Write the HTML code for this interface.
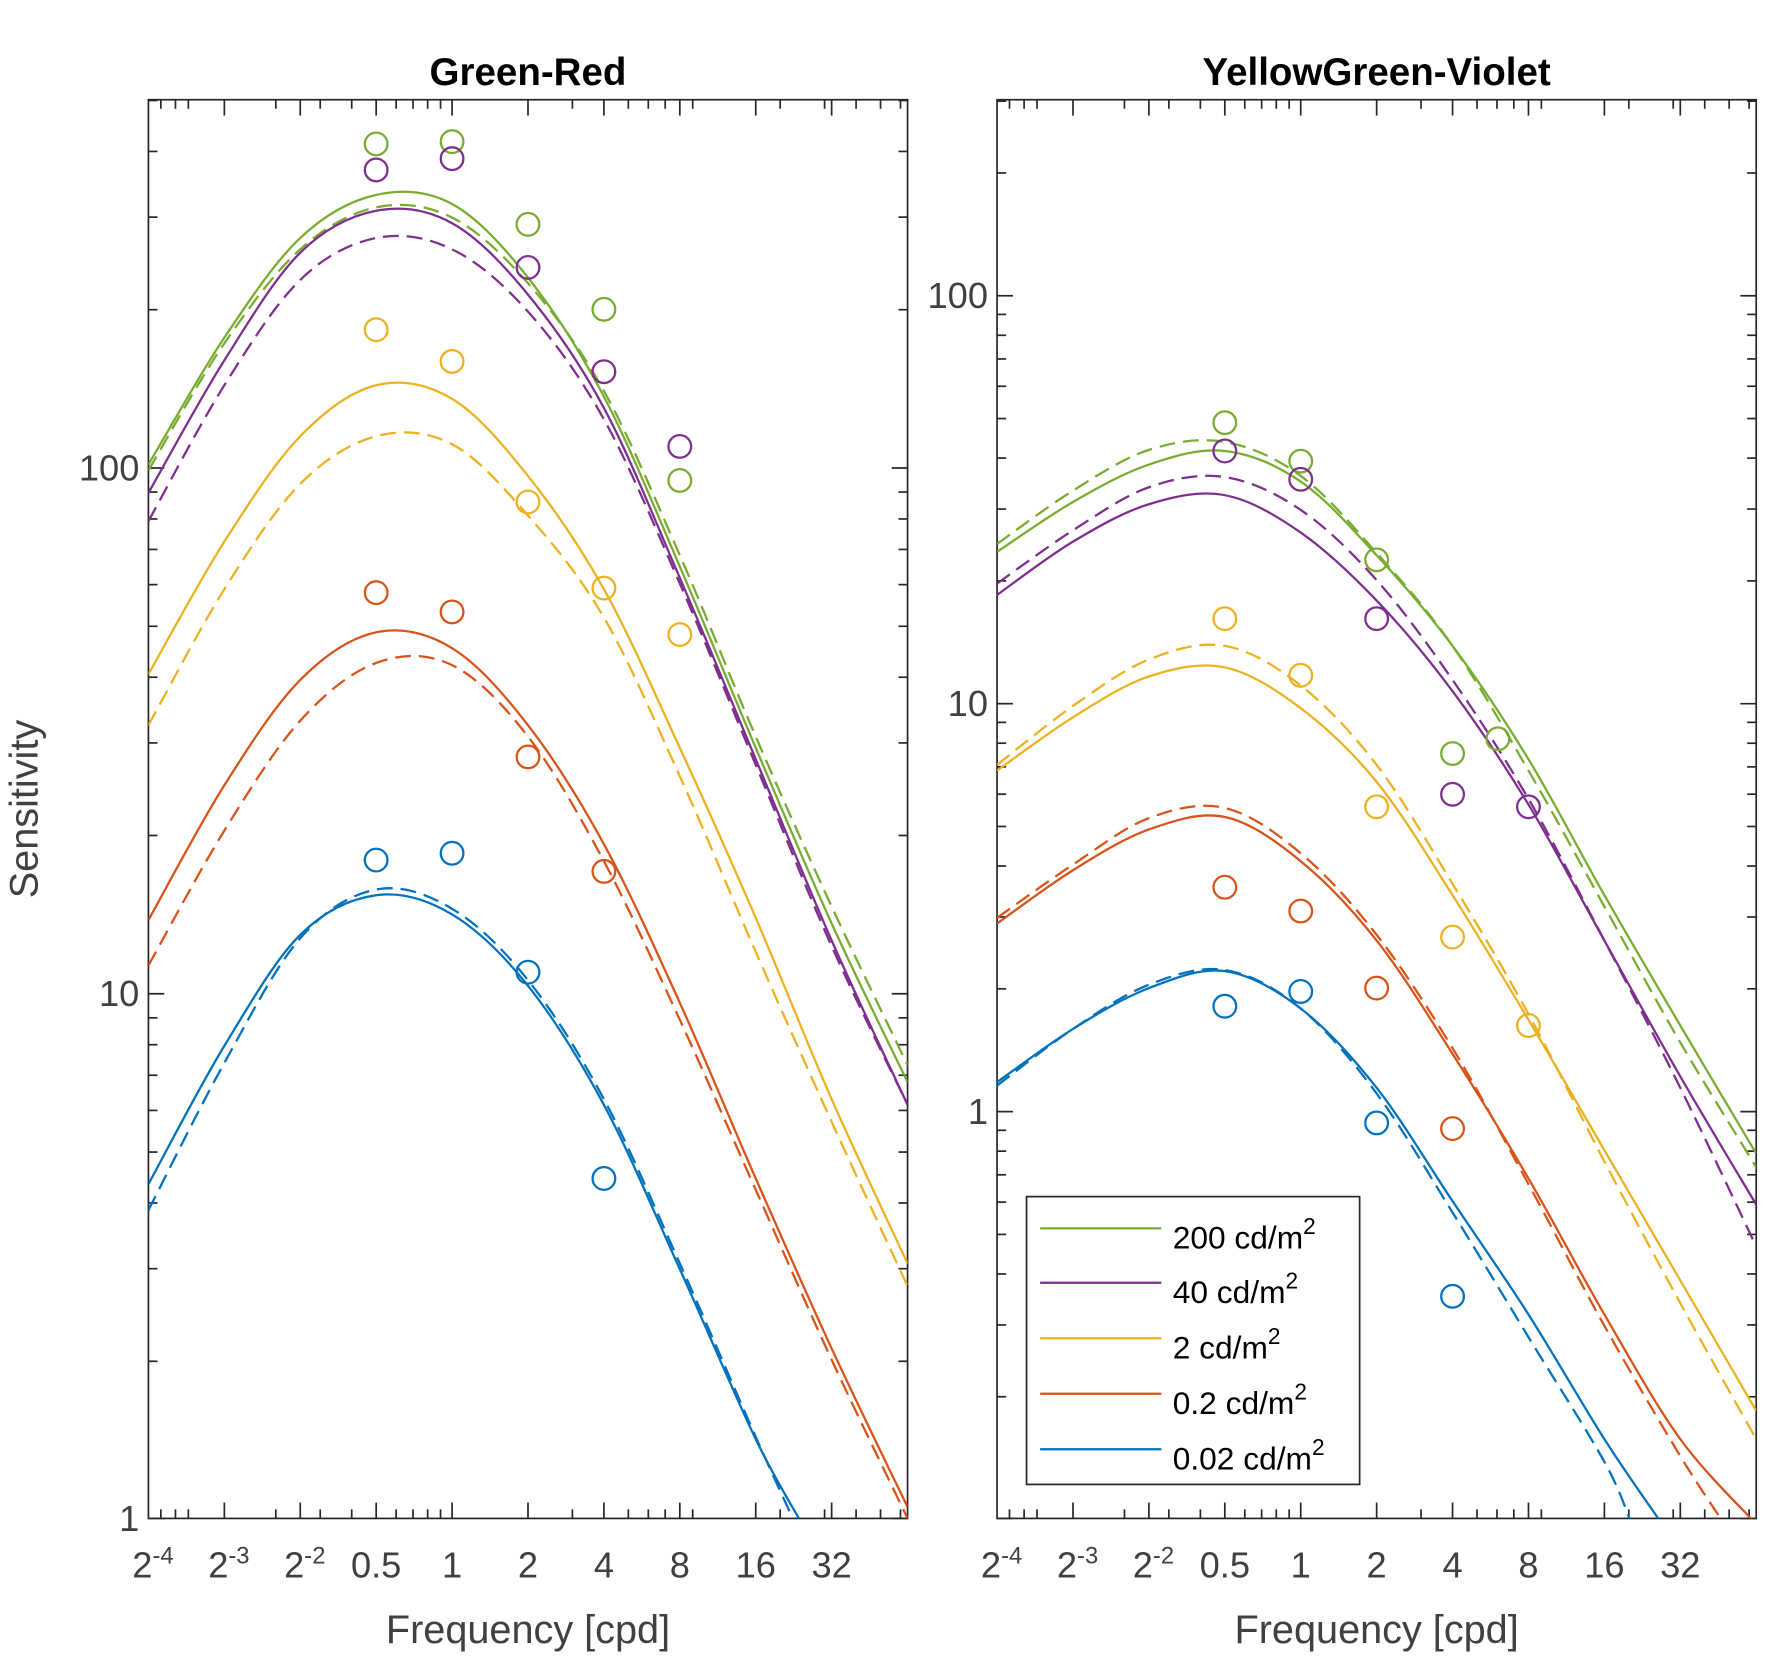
<!DOCTYPE html>
<html><head><meta charset="utf-8"><style>
html,body{margin:0;padding:0;background:#fff}
svg{display:block}
text{font-family:"Liberation Sans",sans-serif}
</style></head><body>
<svg id="s" width="1780" height="1668" viewBox="0 0 1571 1472" preserveAspectRatio="none" xmlns="http://www.w3.org/2000/svg">
<defs>
<clipPath id="cl"><rect x="131" y="88" width="670" height="1252"/></clipPath>
<clipPath id="cr"><rect x="880" y="88" width="670" height="1252"/></clipPath>
</defs>
<rect width="1571" height="1472" fill="#fff"/>
<g id="g"></g>
<text x="466" y="75" text-anchor="middle" font-size="34" font-weight="bold" fill="#000">Green-Red</text>
<text x="1215" y="75" text-anchor="middle" font-size="34" font-weight="bold" fill="#000">YellowGreen-Violet</text>
<text x="466" y="1450" text-anchor="middle" font-size="35" fill="#404040">Frequency [cpd]</text>
<text x="1215" y="1450" text-anchor="middle" font-size="35" fill="#404040">Frequency [cpd]</text>
<text transform="translate(33,714) rotate(-90)" text-anchor="middle" font-size="35" fill="#404040">Sensitivity</text>
<g font-size="28" fill="#000">
<rect x="906" y="1056" width="294" height="254" fill="#fff" stroke="#262626" stroke-width="1.5"/>
<line x1="918" x2="1025" y1="1084" y2="1084" stroke="#77AC30" stroke-width="2"/>
<line x1="918" x2="1025" y1="1132" y2="1132" stroke="#7E2F8E" stroke-width="2"/>
<line x1="918" x2="1025" y1="1181" y2="1181" stroke="#EDB120" stroke-width="2"/>
<line x1="918" x2="1025" y1="1230" y2="1230" stroke="#D95319" stroke-width="2"/>
<line x1="918" x2="1025" y1="1279" y2="1279" stroke="#0072BD" stroke-width="2"/>
<text x="1035" y="1102">200 cd/m<tspan font-size="20" dy="-13">2</tspan></text>
<text x="1035" y="1150">40 cd/m<tspan font-size="20" dy="-13">2</tspan></text>
<text x="1035" y="1199">2 cd/m<tspan font-size="20" dy="-13">2</tspan></text>
<text x="1035" y="1248">0.2 cd/m<tspan font-size="20" dy="-13">2</tspan></text>
<text x="1035" y="1297">0.02 cd/m<tspan font-size="20" dy="-13">2</tspan></text>
</g>
</svg>
<script>
var NS="http://www.w3.org/2000/svg",G=document.getElementById('g');
function el(t,a,p){var e=document.createElementNS(NS,t);for(var k in a)e.setAttribute(k,a[k]);(p||G).appendChild(e);return e;}
function txt(x,y,s,anc,fs){var e=el('text',{x:x,y:y,'text-anchor':anc||'middle','font-size':fs||30,fill:'#404040'});e.innerHTML=s;return e;}
var C={g:'#77AC30',p:'#7E2F8E',y:'#EDB120',r:'#D95319',b:'#0072BD'};
function smooth(pts){var d='M'+pts[0][0]+','+pts[0][1];for(var i=0;i<pts.length-1;i++){var p0=pts[i-1]||pts[i],p1=pts[i],p2=pts[i+1],p3=pts[i+2]||p2;
d+=' C'+(p1[0]+(p2[0]-p0[0])/6)+','+(p1[1]+(p2[1]-p0[1])/6)+' '+(p2[0]-(p3[0]-p1[0])/6)+','+(p2[1]-(p3[1]-p1[1])/6)+' '+p2[0]+','+p2[1];}return d;}
function axes(x0,top,bot,ylog){
 var x1=x0+670,oct=67,cx0=x0+4*oct;
 function fx(f){return cx0+Math.log2(f)*oct;}
 var ax=el('g',{stroke:'#262626','stroke-width':1.5,fill:'none'});
 el('rect',{x:x0,y:top,width:670,height:bot-top},ax);
 var ms=[0.07,0.08,0.09,0.2,0.3,0.4,0.6,0.7,0.8,0.9,3,5,6,7,9,20,30,40,50,60];
 ms.forEach(function(f){var x=fx(f);if(x<x0||x>x1)return;el('line',{x1:x,x2:x,y1:bot,y2:bot-8},ax);el('line',{x1:x,x2:x,y1:top,y2:top+8},ax);});
 for(var k=-3;k<=5;k++){var x=fx(Math.pow(2,k));el('line',{x1:x,x2:x,y1:bot,y2:bot-14},ax);el('line',{x1:x,x2:x,y1:top,y2:top+14},ax);}
 var v0=ylog[0][0],y0=ylog[0][1],dec=ylog[1][1]-ylog[0][1];
 function fy(v){return y0-(Math.log10(v)-Math.log10(v0))*dec;}
 for(var e=-2;e<=3;e++)for(var m=1;m<10;m++){var y=fy(m*Math.pow(10,e));if(y<top-3||y>bot+3)continue;y=Math.min(y,bot);var L=m==1?14:8;
  el('line',{x1:x0,x2:x0+L,y1:y,y2:y},ax);el('line',{x1:x1,x2:x1-L,y1:y,y2:y},ax);
  if(m==1&&e>=0){var s=Math.pow(10,e);txt(x0-8,y+11,String(s),'end',32);}}
 var labs=['2<tspan dy="-12" font-size="21">-4</tspan>','2<tspan dy="-12" font-size="21">-3</tspan>','2<tspan dy="-12" font-size="21">-2</tspan>','0.5','1','2','4','8','16','32'];
 for(var k=-4;k<=5;k++){txt(fx(Math.pow(2,k))+(k<-1?4:0),1392,labs[k+4],'middle',32);}
}
axes(131,88,1340,[[100,413],[10,877]]);
axes(880,88,1340,[[100,261],[10,621]]);
function curves(X,data,clip){var g=el('g',{'clip-path':'url(#'+clip+')',fill:'none','stroke-width':2});
 data.forEach(function(c){var v=c[2],pts=[];for(var i=0;i<v.length;i++){if(v[i]==null)continue;pts.push([X[i],v[i]]);}
  if(c[3])pts.push(c[3]);
  var a={d:smooth(pts),stroke:C[c[0]]};if(c[1])a['stroke-dasharray']='14,7';el('path',a,g);});}
var XL=[131,198,265,332,399,466,533,600,667,734,801];
curves(XL,[
['g',0,[410,298,210,172,180,245,350,500,660,815,955]],
['g',1,[415,303,220,183,192,250,345,490,650,800,940]],
['p',0,[435,318,223,186,197,260,360,510,670,830,975]],
['p',1,[460,340,247,210,220,275,370,515,675,835,975]],
['y',0,[595,478,385,340,352,420,520,660,810,970,1115]],
['y',1,[640,520,427,385,392,455,545,685,840,990,1135]],
['r',0,[812,693,600,558,572,640,745,885,1040,1190,1330]],
['r',1,[852,733,636,585,587,650,760,900,1050,1200,1340]],
['b',0,[1045,923,825,790,807,870,975,1120,1270,null,null],[708,1345]],
['b',1,[1068,938,828,785,802,865,970,1115,1268,null,null],[702,1345]]
],'cl');
var XR=[880,947,1014,1081,1148,1215,1282,1349,1416,1483,1550];
curves(XR,[
['g',0,[487,443,410,398,425,490,570,670,790,905,1018]],
['g',1,[480,433,397,390,420,488,570,680,800,920,1030]],
['p',0,[525,478,445,437,470,530,610,710,830,950,1063]],
['p',1,[515,468,430,421,450,512,600,705,830,960,1100]],
['y',0,[680,633,597,589,625,690,790,900,1015,1130,1245]],
['y',1,[675,623,582,570,605,675,780,895,1025,1150,1270]],
['r',0,[815,768,732,721,760,830,930,1040,1160,1270,1345]],
['r',1,[810,763,722,713,753,825,925,1045,1170,1285,null],[1522,1345]],
['b',0,[955,908,872,857,890,960,1060,1160,1270,null,null],[1467,1345]],
['b',1,[958,908,869,856,890,965,1070,1180,1290,null,null],[1440,1345]]
],'cr');
function mk(c,list){list.forEach(function(p){el('circle',{cx:p[0],cy:p[1],r:10,fill:'none',stroke:C[c],'stroke-width':2});});}
mk('g',[[332,127],[399,125],[466,198],[533,273],[600,424]]);
mk('p',[[332,150],[399,140],[466,236],[533,328],[600,394]]);
mk('y',[[332,291],[399,319],[466,443],[533,519],[600,560]]);
mk('r',[[332,523],[399,540],[466,668],[533,769]]);
mk('b',[[332,759],[399,753],[466,858],[533,1040]]);
mk('g',[[1081,373],[1148,407],[1215,494],[1282,665],[1322,652]]);
mk('p',[[1081,398],[1148,423],[1215,546],[1282,701],[1349,712]]);
mk('y',[[1081,546],[1148,596],[1215,712],[1282,827],[1349,905]]);
mk('r',[[1081,783],[1148,804],[1215,872],[1282,996]]);
mk('b',[[1081,888],[1148,875],[1215,991],[1282,1144]]);
</script>
</body></html>
